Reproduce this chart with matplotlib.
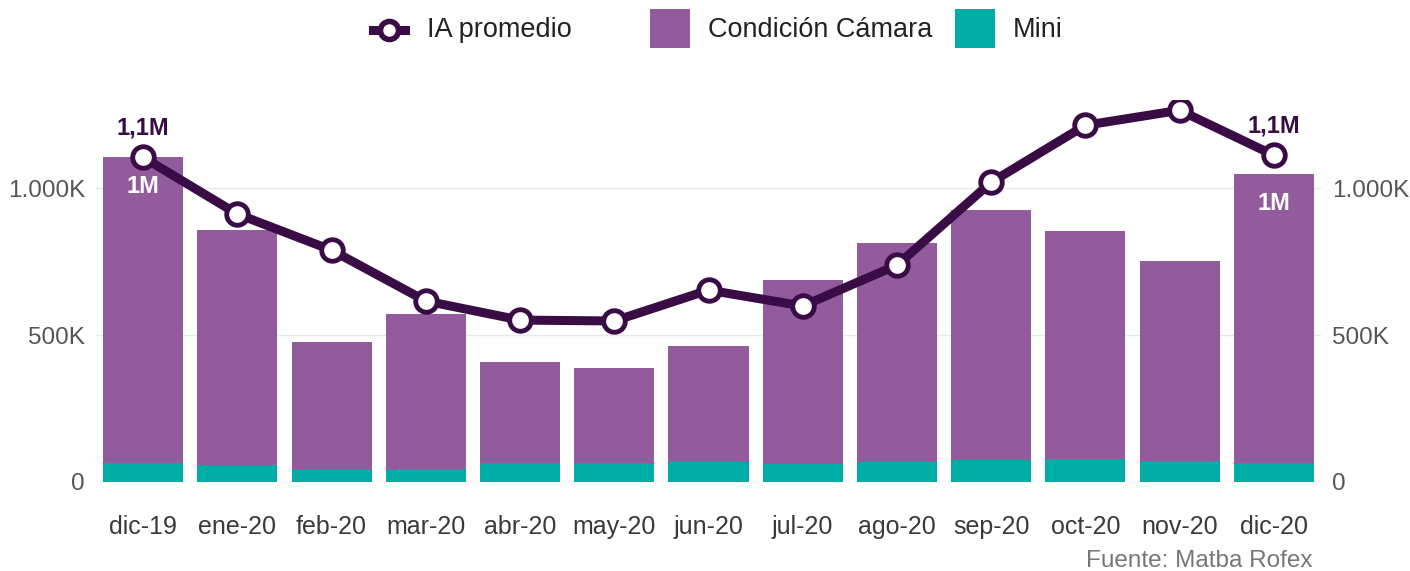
import matplotlib
matplotlib.use("Agg")
import matplotlib.pyplot as plt
from matplotlib.lines import Line2D
from matplotlib.patches import Rectangle

plt.rcParams['font.family'] = ['Liberation Sans', 'DejaVu Sans']

months = ["dic-19", "ene-20", "feb-20", "mar-20", "abr-20", "may-20", "jun-20",
          "jul-20", "ago-20", "sep-20", "oct-20", "nov-20", "dic-20"]
total_k = [1105, 857, 476, 571, 408, 388, 463, 687, 813, 925, 854, 752, 1048]
mini_k = [66, 58, 41, 45, 66, 66, 69, 61, 68, 75, 78, 71, 65]
camara_k = [t - m for t, m in zip(total_k, mini_k)]
ia_promedio_k = [1105, 912, 789, 616, 551, 548, 653, 599, 738, 1020, 1214, 1265, 1112]
line_labels = {0: "1,1M", 12: "1,1M"}
bar_labels = {0: "1M", 12: "1M"}
series_names = ["IA promedio", "Condición Cámara", "Mini"]

PURPLE = "#915B9C"
TEAL = "#00ADA6"
DARK = "#3A0C46"

W, H = 1410, 571
fig = plt.figure(figsize=(W / 100, H / 100), dpi=100)
ax = fig.add_axes([96/W, 89/H, (1321-96)/W, (482-100)/H])

x = list(range(len(months)))
ax.bar(x, mini_k, width=0.85, color=TEAL, zorder=2)
ax.bar(x, camara_k, width=0.85, bottom=mini_k, color=PURPLE, zorder=2)
ax.plot(x, ia_promedio_k, color=DARK, lw=6.5, zorder=3, solid_capstyle='round',
        marker='o', markersize=15.5, markerfacecolor='white', markeredgecolor=DARK,
        markeredgewidth=3.5)

for i, t in line_labels.items():
    ax.annotate(t, (i, ia_promedio_k[i]), xytext=(0, 13), textcoords='offset points',
                ha='center', va='bottom', fontsize=17, fontweight='bold', color=DARK, zorder=4)
for i, t in bar_labels.items():
    ax.annotate(t, (i, total_k[i]), xytext=(0, -13), textcoords='offset points',
                ha='center', va='top', fontsize=17, fontweight='bold', color='white', zorder=4)

ax.set_xlim(-0.5, 12.5)
ax.set_ylim(0, 1300)
ax.set_yticks([0, 500, 1000])
ax.set_yticklabels(["0", "500K", "1.000K"])
ax.set_xticks(x)
ax.set_xticklabels(months)
ax.tick_params(axis='x', length=0, pad=24, labelsize=18, labelcolor='#3a3a3a')
ax.tick_params(axis='y', length=0, pad=8, labelsize=17.5, labelcolor='#555555',
               labelright=True, right=False)
ax.grid(axis='y', color='#e8e8e8', lw=1, zorder=0)
for s in ax.spines.values():
    s.set_visible(False)

# legend drawn in figure pixel coordinates
lg = fig.add_axes([0, 0, 1, 1], zorder=5)
lg.set_xlim(0, W)
lg.set_ylim(H, 0)
lg.axis('off')
lg.add_line(Line2D([373, 405], [30, 30], color=DARK, lw=6.5))
lg.add_line(Line2D([389], [30], marker='o', markersize=13, markerfacecolor='white',
                   markeredgecolor=DARK, markeredgewidth=4, color=DARK))
lg.add_patch(Rectangle((650, 9), 40, 39, facecolor=PURPLE, edgecolor='none'))
lg.add_patch(Rectangle((955, 9), 40, 39, facecolor=TEAL, edgecolor='none'))
for xt, name in zip([427, 708, 1013], series_names):
    lg.text(xt, 30, name, ha='left', va='center', fontsize=19.5, color='#222222')

fig.text(1312/W, 1 - 561/H, "Fuente: Matba Rofex", ha='right', va='center',
         fontsize=17.5, color='#777777')

fig.savefig("out.png", dpi=100)
